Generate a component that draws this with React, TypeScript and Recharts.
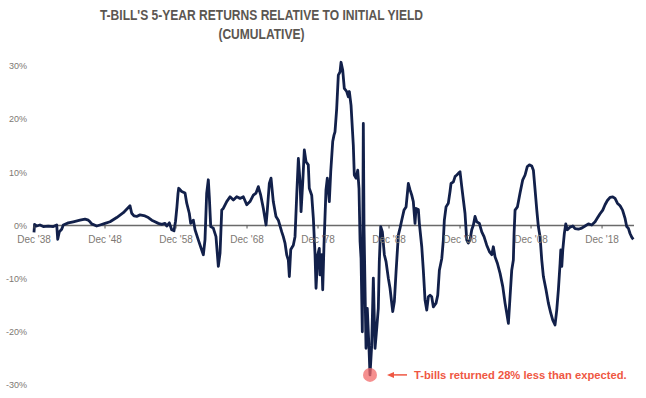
import { LineChart, Line, XAxis, YAxis, ReferenceLine, ReferenceDot } from 'recharts';

// cumulative 5-year T-bill return minus initial yield (%)
const years = [
  1938.92, 1939.0, 1939.3, 1939.76, 1940.23, 1940.93, 1941.64, 1942.12, 1942.26, 1942.48,
  1942.82, 1943.05, 1943.75, 1944.45, 1945.4, 1946.1, 1946.57, 1946.81, 1947.05, 1947.75,
  1948.22, 1948.92, 1949.63, 1950.57, 1951.5, 1952.44, 1952.68, 1953.0, 1953.38, 1953.85,
  1954.55, 1955.02, 1955.5, 1955.96, 1956.43, 1956.91, 1957.37, 1957.61, 1957.98, 1958.31,
  1958.64, 1958.85, 1959.05, 1959.2, 1959.3, 1959.72, 1960.19, 1960.43, 1960.79, 1960.99,
  1961.36, 1961.6, 1962.06, 1962.54, 1962.77, 1963.0, 1963.24, 1963.47, 1963.61, 1963.81,
  1964.17, 1964.55, 1964.88, 1965.12, 1965.36, 1965.58, 1966.06, 1966.53, 1967.0, 1967.47,
  1967.94, 1968.4, 1968.88, 1969.34, 1969.81, 1970.19, 1970.51, 1970.85, 1971.22, 1971.6,
  1971.78, 1972.06, 1972.3, 1972.62, 1973.0, 1973.33, 1973.81, 1974.03, 1974.27, 1974.51,
  1974.74, 1974.88, 1975.08, 1975.44, 1975.68, 1975.92, 1976.15, 1976.39, 1976.53, 1976.77,
  1976.99, 1977.23, 1977.55, 1977.69, 1978.03, 1978.26, 1978.5, 1978.64, 1978.88, 1979.1,
  1979.2, 1979.44, 1979.58, 1979.76, 1980.04, 1980.23, 1980.51, 1980.71, 1980.99, 1981.17,
  1981.31, 1981.55, 1981.78, 1982.02, 1982.16, 1982.4, 1982.62, 1982.96, 1983.19, 1983.33,
  1983.57, 1983.89, 1984.03, 1984.27, 1984.51, 1984.69, 1984.84, 1984.98, 1985.16, 1985.3,
  1985.4, 1985.68, 1985.86, 1986.1, 1986.24, 1986.48, 1986.71, 1986.95, 1987.19, 1987.41,
  1987.55, 1987.75, 1987.98, 1988.26, 1988.5, 1988.82, 1989.06, 1989.44, 1989.67, 1989.91,
  1990.23, 1990.47, 1990.71, 1991.03, 1991.32, 1991.64, 1991.88, 1992.12, 1992.34, 1992.58,
  1992.72, 1993.05, 1993.19, 1993.53, 1993.75, 1993.99, 1994.23, 1994.46, 1994.7, 1994.93,
  1995.16, 1995.54, 1995.78, 1996.01, 1996.35, 1996.57, 1996.71, 1996.95, 1997.27, 1997.51,
  1997.65, 1997.98, 1998.22, 1998.46, 1998.68, 1998.92, 1999.16, 1999.39, 1999.62, 1999.86,
  2000.09, 2000.33, 2000.57, 2000.8, 2001.03, 2001.27, 2001.64, 2001.98, 2002.3, 2002.68,
  2003.05, 2003.39, 2003.61, 2003.85, 2004.18, 2004.56, 2004.94, 2005.26, 2005.5, 2005.73,
  2005.96, 2006.2, 2006.43, 2006.53, 2006.67, 2007.0, 2007.37, 2007.75, 2008.08, 2008.4,
  2008.69, 2009.02, 2009.25, 2009.49, 2009.73, 2009.95, 2010.19, 2010.43, 2010.66, 2011.03,
  2011.36, 2011.7, 2011.98, 2012.3, 2012.54, 2012.77, 2013.01, 2013.11, 2013.25, 2013.39,
  2013.61, 2013.81, 2014.04, 2014.42, 2014.8, 2015.12, 2015.59, 2016.06, 2016.53, 2017.0,
  2017.47, 2017.94, 2018.26, 2018.64, 2019.02, 2019.34, 2019.67, 2020.05, 2020.43, 2020.75,
  2021.08, 2021.46, 2021.81, 2022.15, 2022.39, 2022.62, 2022.86, 2023.1, 2023.32,
];

const excessReturn = [
  -1.3, 0.2, -0.1, 0.1, -0.2, -0.1, -0.2, 0.1, -2.6, -1.2,
  -0.7, 0.1, 0.5, 0.7, 1.0, 1.2, 1.0, 0.7, 0.3, -0.1,
  0.1, 0.4, 0.7, 1.5, 2.4, 3.7, 2.3, 1.8, 1.7, 2.0,
  1.8, 1.5, 1.0, 0.7, 0.4, 0.2, 0.4, -0.1, 0.5, -0.8,
  -1.0, 0.8, 3.5, 6.0, 7.0, 6.4, 6.1, 4.2, 2.3, 0.4,
  1.0, -0.8, -2.7, -4.6, -5.5, -2.7, 6.1, 8.6, 5.4, -0.2,
  -0.5, -2.1, -7.7, -5.2, 2.9, 3.2, 4.5, 5.4, 4.8, 5.4,
  5.1, 5.4, 3.9, 4.5, 5.7, 6.1, 7.3, 5.7, 3.2, 0.1,
  2.9, 7.9, 8.9, 4.5, 1.7, 1.0, -1.2, -2.1, -3.3, -5.5,
  -6.5, -9.6, -4.5, -3.7, -2.1, 5.7, 12.6, 8.2, 2.6, 8.2,
  14.2, 12.0, 11.4, 7.0, 5.7, 1.4, -5.5, -11.8, -5.5, -4.3,
  -9.3, -5.5, -12.1, -3.7, 6.7, 8.9, 4.5, 10.1, 15.8, 17.0,
  17.6, 22.0, 28.3, 28.9, 30.7, 29.2, 25.8, 25.2, 24.2, 25.2,
  22.6, 15.1, 9.5, 8.9, 10.4, 7.0, -3.0, -6.2, -20.0, 19.2,
  -0.5, -23.1, -15.6, -23.1, -28.1, -22.5, -9.9, -23.1, -19.3, -15.6,
  -6.8, -0.2, -1.2, -5.5, -6.8, -9.9, -11.8, -16.2, -14.3, -8.7,
  -1.8, -0.5, 1.0, 2.9, 3.5, 7.9, 6.7, 5.7, 4.5, 0.4,
  3.2, 3.0, 0.4, -4.0, -8.4, -14.0, -15.9, -13.4, -13.1, -13.4,
  -15.3, -14.6, -13.1, -8.4, -6.2, -2.7, 1.0, 3.5, 4.2, 6.4,
  7.9, 8.2, 9.2, 9.5, 9.8, 10.1, 7.3, 4.8, 2.3, -2.7,
  -3.3, -2.7, -0.8, 0.1, 1.7, 0.7, 0.4, -1.2, -2.1, -3.7,
  -4.9, -5.5, -4.0, -5.9, -7.1, -9.0, -11.5, -14.6, -16.5, -18.4,
  -13.5, -8.4, -6.5, -1.5, 2.9, 3.5, 6.1, 8.6, 9.5, 11.1,
  11.4, 11.2, 10.4, 6.7, 2.9, -0.2, -2.1, -6.5, -9.6, -12.1,
  -14.6, -16.5, -17.8, -18.7, -15.9, -12.1, -7.1, -4.6, -7.7, -4.6,
  -1.5, 0.3, -0.8, -0.3, -0.1, -0.6, -0.7, -0.5, -0.1, 0.3,
  0.1, 0.7, 1.4, 2.2, 2.9, 3.9, 4.7, 5.3, 5.4, 5.1,
  4.2, 3.7, 2.9, 1.4, -0.2, -0.5, -1.5, -2.2, -2.6,
];

const decadeTicks = [1938.92, 1948.92, 1958.92, 1968.92, 1978.92, 1988.92, 1998.92, 2008.92, 2018.92];
const decadeLabels = ["Dec '38", "Dec '48", "Dec '58", "Dec '68", "Dec '78", "Dec '88", "Dec '98", "Dec '08", "Dec '18"];
const yTicks = [-30, -20, -10, 0, 10, 20, 30];

const troughYear = 1986.24;
const troughValue = -28.1;
const troughNote = 'T-bills returned 28% less than expected.';

const data = years.map((year, i) => ({ year, value: excessReturn[i] }));

const W = 646;
const H = 398;
// y scale: 30% at 66px, -30% at 385px; domain runs to 32 so the 1982 peak is not clipped
const Y_MIN = -30;
const Y_MAX = 32;
const PX_PER_PCT = (385 - 66) / 60;
const PLOT_BOTTOM = 385;
const PLOT_TOP = PLOT_BOTTOM - (Y_MAX - Y_MIN) * PX_PER_PCT;
const ZERO_Y = PLOT_BOTTOM + Y_MIN * PX_PER_PCT;
const X_AXIS_H = 1;

const AXIS_GREY = '#7d7873';
const NAVY = '#12204a';
const RED = '#ef5743';

function DecadeTick({ x, payload }: any) {
  const i = decadeTicks.indexOf(payload.value);
  return (
    <g>
      <line x1={x} x2={x} y1={ZERO_Y} y2={ZERO_Y + 3} stroke="#555" strokeWidth={1} />
      <text x={x} y={ZERO_Y + 17} textAnchor="middle" fontSize={10} fill={AXIS_GREY}
        fontFamily="'Liberation Sans', Arial, sans-serif">
        {decadeLabels[i]}
      </text>
    </g>
  );
}

function TroughNote({ viewBox }: any) {
  if (!viewBox) return null;
  const cx = viewBox.x + (viewBox.width || 0) / 2;
  const cy = viewBox.y + (viewBox.height || 0) / 2;
  return (
    <g>
      <line x1={cx + 22} x2={cx + 37} y1={cy} y2={cy} stroke={RED} strokeWidth={1.5} />
      <path d={`M ${cx + 17} ${cy} L ${cx + 24} ${cy - 3} L ${cx + 24} ${cy + 3} Z`} fill={RED} />
      <text x={cx + 44} y={cy + 4} fontSize={11.2} fontWeight="bold" fill={RED}
        fontFamily="'Liberation Sans', Arial, sans-serif">
        {troughNote}
      </text>
    </g>
  );
}

export default function App() {
  return (
    <div style={{ position: 'absolute', left: 0, top: 0, width: W, height: H, background: '#fff' }}>
      <LineChart
        width={W}
        height={H}
        data={data}
        margin={{ top: PLOT_TOP, right: 12, bottom: H - PLOT_BOTTOM - X_AXIS_H, left: 0 }}
      >
        <XAxis
          dataKey="year"
          type="number"
          domain={[1938.92, 2023.42]}
          ticks={decadeTicks}
          axisLine={false}
          tickLine={false}
          height={X_AXIS_H}
          interval={0}
          tick={(props: any) => <DecadeTick {...props} />}
        />
        <YAxis
          type="number"
          domain={[Y_MIN, Y_MAX]}
          ticks={yTicks}
          width={34}
          axisLine={false}
          tickLine={false}
          tickMargin={1}
          tickFormatter={(v: number) => `${v}%`}
          tick={{ fontSize: 9, fill: AXIS_GREY, fontFamily: "'Liberation Sans', Arial, sans-serif" }}
        />
        <ReferenceLine y={0} stroke="#6a6a6a" strokeWidth={1.5} />
        <Line
          type="linear"
          dataKey="value"
          stroke={NAVY}
          strokeWidth={2.8}
          strokeLinejoin="round"
          dot={false}
          isAnimationActive={false}
        />
        <ReferenceDot
          x={troughYear}
          y={troughValue}
          r={7}
          fill="#f26a6a"
          fillOpacity={0.75}
          stroke="none"
          label={<TroughNote />}
        />
      </LineChart>
      <div
        style={{
          position: 'absolute', left: 0, width: 523, top: 6, textAlign: 'center',
          fontFamily: "'Liberation Sans', Arial, sans-serif",
          fontWeight: 'bold', fontSize: 14, lineHeight: '19px', color: '#5b5651',
          transform: 'scaleX(0.86)', transformOrigin: '261px 0',
        }}
      >
        <div>T-BILL'S 5-YEAR RETURNS RELATIVE TO INITIAL YIELD</div>
        <div>(CUMULATIVE)</div>
      </div>
    </div>
  );
}
